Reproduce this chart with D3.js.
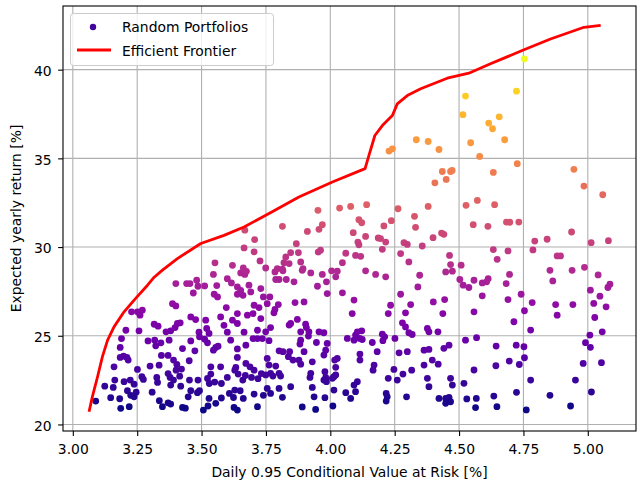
<!DOCTYPE html>
<html><head><meta charset="utf-8">
<script src="https://cdn.jsdelivr.net/npm/d3@7"></script>
<style>body{margin:0;background:#fff}svg{display:block}text{font-family:"DejaVu Sans",sans-serif;fill:#000}</style>
</head><body><svg id="c" width="640" height="483"></svg>
<script>
// Random portfolios: [CVaR %, expected yearly return %]
const portfolios = [
[3.546,28.46],[3.600,28.22],[3.616,27.98],[3.652,28.54],[3.668,28.46],[3.674,28.63],[3.481,28.13],[3.400,27.94],[3.442,27.94],[3.455,27.94],[3.486,27.79],[3.512,27.81],[3.559,27.83],[3.639,27.75],[3.652,27.56],[3.684,27.85],[3.730,27.66],[3.468,27.41],[3.549,27.34],[3.562,27.19],[3.639,27.34],[3.661,27.28],[3.691,27.47],[3.740,27.19],[3.387,26.81],[3.400,26.68],[3.596,26.59],[3.704,26.72],[3.723,26.59],[3.228,26.35],[3.251,26.35],[3.270,26.44],[3.261,26.16],[3.458,26.06],[3.477,25.91],[3.516,25.88],[3.574,26.06],[3.620,25.88],[3.639,26.25],[3.678,26.16],[3.700,26.25],[3.730,25.97],[3.316,25.65],[3.331,25.54],[3.362,25.22],[3.380,25.28],[3.406,25.69],[3.417,25.73],[3.397,25.46],[3.206,25.31],[3.257,25.28],[3.490,25.20],[3.520,25.41],[3.529,25.13],[3.587,25.59],[3.600,25.20],[3.639,25.69],[3.665,25.20],[3.717,25.31],[3.749,25.22],[3.189,24.84],[3.292,24.71],[3.318,24.75],[3.342,24.60],[3.322,24.43],[3.374,24.75],[3.458,24.71],[3.492,24.94],[3.512,24.81],[3.523,24.60],[3.555,24.34],[3.564,24.41],[3.546,24.19],[3.613,24.75],[3.639,24.26],[3.672,24.47],[3.700,24.84],[3.717,24.84],[3.736,24.84],[3.184,24.34],[3.426,24.28],[3.474,24.15],[3.197,23.85],[3.184,23.78],[3.210,23.78],[3.215,23.63],[3.160,23.25],[3.251,23.10],[3.300,23.29],[3.335,23.34],[3.344,23.89],[3.370,23.89],[3.391,23.63],[3.404,23.38],[3.422,23.12],[3.452,23.59],[3.401,23.06],[3.536,23.25],[3.574,23.25],[3.633,23.21],[3.639,23.78],[3.672,23.44],[3.688,23.25],[3.704,23.06],[3.268,22.69],[3.274,22.54],[3.223,22.50],[3.238,22.27],[3.199,22.41],[3.163,22.50],[3.124,22.16],[3.157,22.09],[3.326,22.65],[3.329,22.37],[3.370,22.87],[3.378,22.65],[3.391,22.50],[3.380,22.22],[3.415,22.72],[3.419,22.16],[3.453,22.50],[3.486,22.50],[3.523,22.59],[3.536,22.84],[3.530,22.31],[3.551,22.39],[3.577,22.31],[3.600,22.65],[3.629,23.06],[3.642,22.84],[3.660,22.50],[3.670,22.76],[3.694,22.65],[3.719,22.58],[3.732,22.87],[3.212,21.90],[3.225,21.64],[3.246,21.82],[3.238,21.56],[3.089,21.32],[3.147,21.51],[3.182,21.45],[3.308,21.82],[3.336,21.34],[3.370,21.22],[3.380,21.15],[3.448,21.56],[3.458,21.90],[3.492,21.90],[3.529,21.47],[3.555,21.19],[3.525,21.04],[3.577,21.49],[3.608,21.75],[3.624,21.52],[3.629,21.94],[3.650,21.90],[3.662,21.47],[3.704,21.71],[3.717,21.00],[3.740,21.64],[3.186,20.91],[3.219,21.00],[3.348,21.00],[3.426,20.96],[3.437,20.92],[3.626,20.96],[3.639,20.81],[3.507,20.81],[3.484,21.79],
[3.785,28.60],[3.816,28.66],[3.891,28.69],[3.924,28.54],[3.969,28.46],[4.005,28.66],[4.021,28.32],[3.985,28.04],[4.137,28.66],[4.176,28.46],[4.215,28.32],[4.347,28.41],[4.448,28.60],[3.788,28.17],[3.801,28.17],[3.829,28.17],[3.859,28.04],[3.950,27.79],[3.988,27.38],[4.047,27.42],[4.092,27.01],[4.273,27.34],[4.340,27.75],[3.765,27.19],[3.755,26.81],[3.798,26.76],[3.785,26.48],[3.781,26.29],[3.863,26.87],[3.898,26.91],[4.085,26.25],[4.234,26.72],[4.225,26.25],[4.312,26.76],[4.292,26.29],[4.400,26.91],[4.444,27.04],[4.437,26.25],[3.872,25.92],[3.846,25.69],[3.840,25.60],[3.768,25.46],[3.904,25.65],[3.907,25.46],[3.885,25.22],[3.917,25.22],[3.956,25.22],[3.975,25.17],[3.915,24.98],[4.105,25.22],[4.122,25.28],[4.098,25.04],[4.280,25.73],[4.292,25.50],[4.305,25.17],[4.318,25.07],[4.377,25.41],[4.383,25.22],[4.418,25.22],[4.202,25.09],[4.211,24.94],[3.762,24.72],[3.885,24.75],[3.882,24.53],[3.946,24.62],[3.988,24.57],[4.066,24.85],[4.092,24.75],[4.114,24.85],[4.124,24.79],[4.163,24.62],[4.204,24.72],[4.251,24.85],[3.801,24.15],[3.816,24.10],[3.842,24.10],[3.837,23.82],[3.855,23.63],[3.898,24.10],[3.982,24.19],[3.975,23.91],[4.115,23.97],[4.182,24.10],[4.267,24.04],[4.299,24.10],[4.364,24.19],[4.383,24.23],[4.441,24.29],[4.461,24.47],[3.755,23.72],[3.762,23.35],[3.788,23.29],[3.878,23.63],[3.885,23.40],[3.930,23.53],[4.027,23.72],[4.017,23.63],[4.115,23.63],[4.170,23.35],[4.166,23.06],[4.021,23.22],[4.247,23.10],[4.316,23.06],[4.364,23.35],[4.396,23.63],[4.419,23.40],[3.749,22.79],[3.768,22.88],[3.801,22.88],[3.777,22.73],[3.807,22.73],[3.924,22.88],[3.921,22.65],[3.979,22.97],[3.982,22.65],[3.985,22.41],[4.014,22.69],[4.021,22.79],[3.975,22.50],[4.008,22.60],[4.105,22.41],[4.092,22.22],[4.225,22.60],[4.260,22.50],[4.282,22.84],[4.377,22.60],[4.383,22.13],[4.467,22.60],[4.474,22.22],[3.755,22.03],[3.768,21.75],[3.801,22.03],[3.846,22.13],[3.814,21.53],[3.930,22.09],[3.937,21.56],[3.979,21.51],[4.014,21.94],[4.060,21.79],[4.079,21.47],[4.098,21.85],[4.217,21.75],[4.221,21.56],[4.217,21.32],[4.296,21.56],[4.422,21.47],[4.448,21.47],[4.461,21.53],[4.467,21.28],[4.448,21.19],[3.891,20.99],[3.943,20.85],[4.010,21.04],
[4.503,28.17],[4.516,27.85],[4.538,27.72],[4.558,28.13],[4.590,27.98],[4.607,28.04],[4.613,28.22],[4.696,28.46],[4.683,27.94],[4.590,27.25],[4.558,26.35],[4.690,27.04],[4.741,27.34],[4.784,26.87],[4.754,26.41],[4.713,25.79],[4.778,25.32],[4.853,28.69],[4.864,28.09],[4.939,28.69],[5.040,28.43],[5.086,27.91],[5.078,27.72],[5.010,27.57],[5.047,27.23],[5.023,26.82],[5.071,26.63],[5.027,26.03],[4.875,26.76],[4.881,26.16],[4.942,26.76],[5.056,25.22],[5.008,25.04],[4.525,24.75],[4.568,24.89],[4.644,24.42],[4.722,24.47],[4.752,24.38],[4.754,23.76],[4.695,23.57],[4.734,23.38],[4.643,23.31],[4.558,23.07],[4.991,24.61],[5.010,24.35],[4.982,23.44],[5.053,23.48],[4.778,22.50],[4.952,22.50],[4.519,22.32],[4.723,21.81],[4.635,21.60],[4.530,21.44],[4.567,21.47],[4.853,21.64],[5.014,21.83],[4.564,20.95],[4.647,21.00],[4.761,20.82],[4.933,21.04],
[3.668,30.95],[3.706,30.42],[3.665,29.95],[3.704,29.73],[3.727,29.22],[3.552,29.11],[3.620,28.97],[3.662,28.82],[3.749,28.82],
[4.228,35.41],[4.241,35.54],[4.334,36.05],[4.380,35.95],[4.422,35.50],[4.435,34.26],[4.467,34.26],[4.450,33.81],[4.406,33.62],[3.952,32.07],[4.036,32.20],[4.079,32.29],[4.141,32.39],[4.263,32.16],[4.380,32.29],[3.814,31.17],[3.911,30.88],[3.956,31.00],[3.969,31.26],[4.111,31.54],[4.122,31.37],[4.208,31.19],[4.237,31.49],[4.327,31.73],[4.331,31.11],[4.089,30.81],[4.137,30.60],[4.186,30.51],[4.195,30.48],[4.215,30.28],[4.107,30.28],[4.111,30.13],[4.202,29.87],[4.286,30.25],[4.299,30.15],[4.357,30.06],[4.399,30.53],[4.432,30.79],[4.441,30.72],[4.463,29.53],[4.467,29.01],[3.868,30.19],[3.846,29.68],[3.876,29.68],[3.953,29.72],[3.962,29.82],[4.060,29.65],[4.098,29.53],[4.118,29.48],[4.273,29.63],[4.305,29.16],[3.827,29.44],[3.820,29.12],[3.840,29.07],[3.885,29.16],[3.894,28.78],[3.794,28.78],[3.814,28.75],[4.047,29.12],[4.027,28.64],[4.474,28.64],
[4.545,35.88],[4.677,36.05],[4.580,35.11],[4.726,34.70],[4.473,34.32],[4.633,34.21],[4.946,34.38],[4.985,33.44],[5.058,32.95],[4.527,32.35],[4.571,32.63],[4.638,32.39],[4.555,31.26],[4.612,31.17],[4.684,31.41],[4.697,31.40],[4.732,31.41],[4.937,30.85],[4.794,30.34],[4.842,30.44],[5.013,30.25],[5.080,30.36],[4.633,29.86],[4.690,29.78],[4.787,29.84],[4.648,29.31],[4.881,29.50],[4.894,29.50],[4.508,28.98],[4.987,28.86],
[4.754,40.61],[4.723,38.79],[4.525,38.51],[4.515,37.46],[4.656,37.34],[4.615,36.99],[4.630,36.67]
];
const frontierX = [3.063,3.076,3.096,3.115,3.135,3.160,3.199,3.238,3.290,3.316,3.348,3.406,3.497,3.587,3.665,3.769,3.878,4.008,4.135,4.150,4.173,4.202,4.241,4.260,4.299,4.351,4.454,4.538,4.622,4.745,4.855,4.985,5.050];
const frontierY = [20.72,21.57,22.69,23.82,24.75,25.50,26.35,27.01,27.85,28.30,28.70,29.35,30.20,30.66,31.13,31.95,32.82,33.67,34.42,35.17,36.29,36.85,37.42,38.07,38.54,38.92,39.52,39.80,40.33,41.08,41.73,42.39,42.50];
const xTicks = [3.00,3.25,3.50,3.75,4.00,4.25,4.50,4.75,5.00];
const yTicks = [20,25,30,35,40];
const xLabel = "Daily 0.95 Conditional Value at Risk [%]";
const yLabel = "Expected yearly return [%]";
const legendLabels = ["Random Portfolios","Efficient Frontier"];

const svg = d3.select("#c");
const L=63, T=6, R=636, B=431;
const allX = portfolios.map(d=>d[0]).concat(frontierX);
const allY = portfolios.map(d=>d[1]).concat(frontierY);
function pad(ext){const r=ext[1]-ext[0];return [ext[0]-0.05*r, ext[1]+0.05*r];}
const x = d3.scaleLinear().domain(pad(d3.extent(allX))).range([L,R]);
const y = d3.scaleLinear().domain(pad(d3.extent(allY))).range([B,T]);
const color = d3.scaleSequential(d3.interpolatePlasma).domain(d3.extent(portfolios,d=>d[1]));

// grid
const g = svg.append("g");
g.selectAll(".gx").data(xTicks).enter().append("line")
 .attr("x1",d=>x(d)).attr("x2",d=>x(d)).attr("y1",T).attr("y2",B)
 .attr("stroke","#b0b0b0").attr("stroke-width",1.1);
g.selectAll(".gy").data(yTicks).enter().append("line")
 .attr("y1",d=>y(d)).attr("y2",d=>y(d)).attr("x1",L).attr("x2",R)
 .attr("stroke","#b0b0b0").attr("stroke-width",1.1);

// scatter
svg.append("g").selectAll("circle").data(portfolios).enter().append("circle")
 .attr("cx",d=>x(d[0])).attr("cy",d=>y(d[1])).attr("r",3.4)
 .attr("fill",d=>color(d[1]));

// frontier
const fr = frontierX.map((v,i)=>[v,frontierY[i]]);
svg.append("path").datum(fr)
 .attr("d",d3.line().x(d=>x(d[0])).y(d=>y(d[1])))
 .attr("fill","none").attr("stroke","#ff0000").attr("stroke-width",2.8)
 .attr("stroke-linejoin","round").attr("stroke-linecap","butt");

// axes
const xa = svg.append("g").attr("transform",`translate(0,${B})`)
 .call(d3.axisBottom(x).tickValues(xTicks).tickFormat(d3.format(".2f")).tickSizeOuter(0).tickSize(4.9).tickPadding(8.5));
const ya = svg.append("g").attr("transform",`translate(${L},0)`)
 .call(d3.axisLeft(y).tickValues(yTicks).tickFormat(d3.format("d")).tickSizeOuter(0).tickSize(4.9).tickPadding(6.4));
[xa,ya].forEach(a=>{
  a.select(".domain").remove();
  a.selectAll(".tick line").attr("stroke","#000").attr("stroke-width",1.1);
  a.selectAll(".tick text").attr("font-size","13.9px").attr("font-family","DejaVu Sans").attr("fill","#000");
});
ya.selectAll(".tick text").attr("dy","0.42em");
// spines
svg.append("rect").attr("x",L).attr("y",T).attr("width",R-L).attr("height",B-T)
 .attr("fill","none").attr("stroke","#000").attr("stroke-width",1.1);

svg.append("text").attr("x",(L+R)/2).attr("y",476.5).attr("text-anchor","middle")
 .attr("font-size","13.9px").text(xLabel);
svg.append("text").attr("transform",`translate(20.7,${(T+B)/2}) rotate(-90)`).attr("text-anchor","middle")
 .attr("font-size","13.9px").text(yLabel);

// legend
const lg = svg.append("g");
lg.append("rect").attr("x",70.5).attr("y",13.5).attr("width",203).attr("height",52).attr("rx",3)
 .attr("fill","#fff").attr("fill-opacity",0.8).attr("stroke","#cccccc").attr("stroke-width",1);
lg.append("circle").attr("cx",93).attr("cy",27).attr("r",3.2).attr("fill",color(d3.min(portfolios,d=>d[1])+2));
lg.append("line").attr("x1",77).attr("x2",111).attr("y1",50).attr("y2",50).attr("stroke","#ff0000").attr("stroke-width",2.8);
lg.append("text").attr("x",122).attr("y",31.5).attr("font-size","13.9px").text(legendLabels[0]);
lg.append("text").attr("x",122).attr("y",55.5).attr("font-size","13.9px").text(legendLabels[1]);
</script></body></html>
